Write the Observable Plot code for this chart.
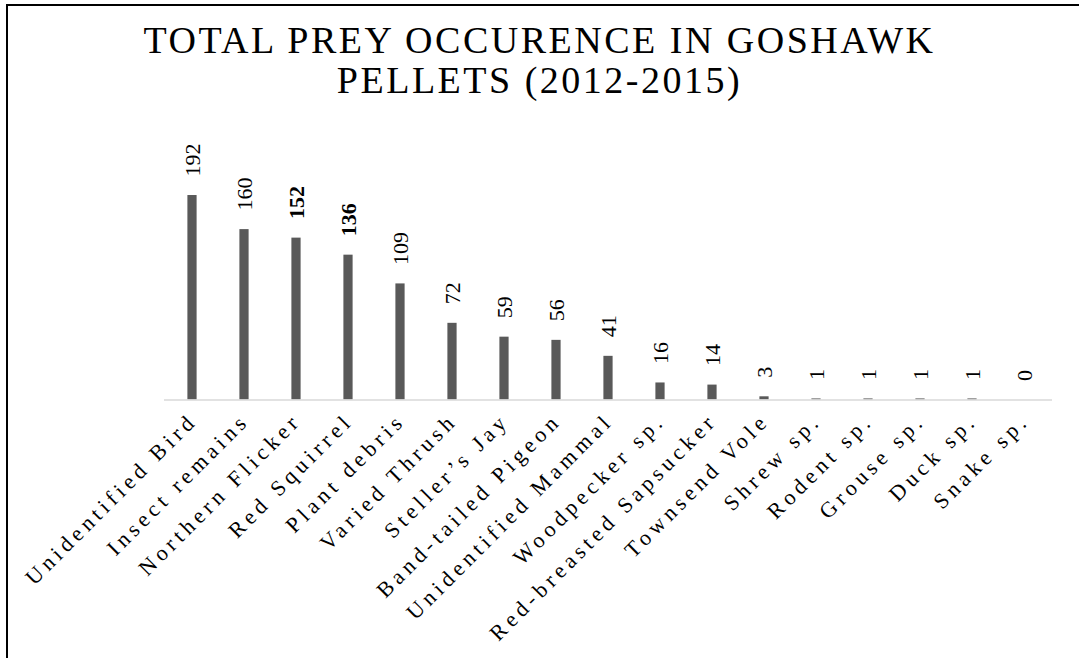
<!DOCTYPE html>
<html>
<head>
<meta charset="utf-8">
<script src="https://cdn.jsdelivr.net/npm/d3@7"></script>
<script src="https://cdn.jsdelivr.net/npm/@observablehq/plot@0.6"></script>
<style>
  html, body { margin: 0; padding: 0; background: #fff; width: 1079px; height: 658px; overflow: hidden; }
  #frame { position: absolute; left: 6px; top: 4px; width: 1200px; height: 800px; border-left: 2px solid #000; border-top: 2px solid #000; pointer-events: none; }
  #title { height: 120px; box-sizing: border-box; padding-top: 20px; padding-left: 0px; text-align: center; font-family: "Liberation Serif", "Times New Roman", serif; font-size: 38px; line-height: 40px; letter-spacing: 2.5px; color: #000; }
  #chart svg { display: block; }
</style>
</head>
<body>
<div id="frame"></div>
<div id="title">TOTAL PREY OCCURENCE IN GOSHAWK<br>PELLETS (2012-2015)</div>
<div id="chart"></div>
<script>
const categories = ["Unidentified Bird", "Insect remains", "Northern Flicker", "Red Squirrel", "Plant debris", "Varied Thrush", "Steller’s Jay", "Band-tailed Pigeon", "Unidentified Mammal", "Woodpecker sp.", "Red-breasted Sapsucker", "Townsend Vole", "Shrew sp.", "Rodent sp.", "Grouse sp.", "Duck sp.", "Snake sp."];
const counts = [192, 160, 152, 136, 109, 72, 59, 56, 41, 16, 14, 3, 1, 1, 1, 1, 0];
const boldLabels = ["Northern Flicker", "Red Squirrel"];

const data = categories.map((c, i) => ({category: c, count: counts[i], bold: boldLabels.includes(c)}));

const chart = Plot.plot({
  width: 1079,
  height: 538,
  marginLeft: 164,
  marginRight: 27,
  marginTop: 66.5,
  marginBottom: 258.5,
  style: {fontFamily: "Liberation Serif, Times New Roman, serif", background: "transparent", overflow: "visible", color: "#000"},
  x: {domain: categories, padding: 0, axis: null},
  y: {domain: [0, 200], axis: null},
  marks: [
    Plot.barY(data, {x: "category", y: "count", fill: "#595959", insetLeft: 21.4, insetRight: 21.4}),
    Plot.ruleY([0], {stroke: "#d9d9d9", strokeWidth: 1.5}),
    Plot.text(data.filter(d => !d.bold), {x: "category", y: "count", text: d => String(d.count), rotate: -90, textAnchor: "start", lineAnchor: "middle", dy: -19, fontSize: 22, fill: "#000"}),
    Plot.text(data.filter(d => d.bold), {x: "category", y: "count", text: d => String(d.count), rotate: -90, textAnchor: "start", lineAnchor: "middle", dy: -19, fontSize: 22, fontWeight: "bold", fill: "#000"}),
    Plot.text(categories, {x: d => d, frameAnchor: "bottom", text: d => d, rotate: -45, textAnchor: "end", lineAnchor: "middle", dx: 1, dy: 17, fontSize: 22, fill: "#000"})
  ]
});
document.getElementById("chart").appendChild(chart);
// letter spacing for category labels
const groups = chart.querySelectorAll("g[aria-label='text']");
groups[groups.length - 1].setAttribute("letter-spacing", "4.5px");
</script>
</body>
</html>
